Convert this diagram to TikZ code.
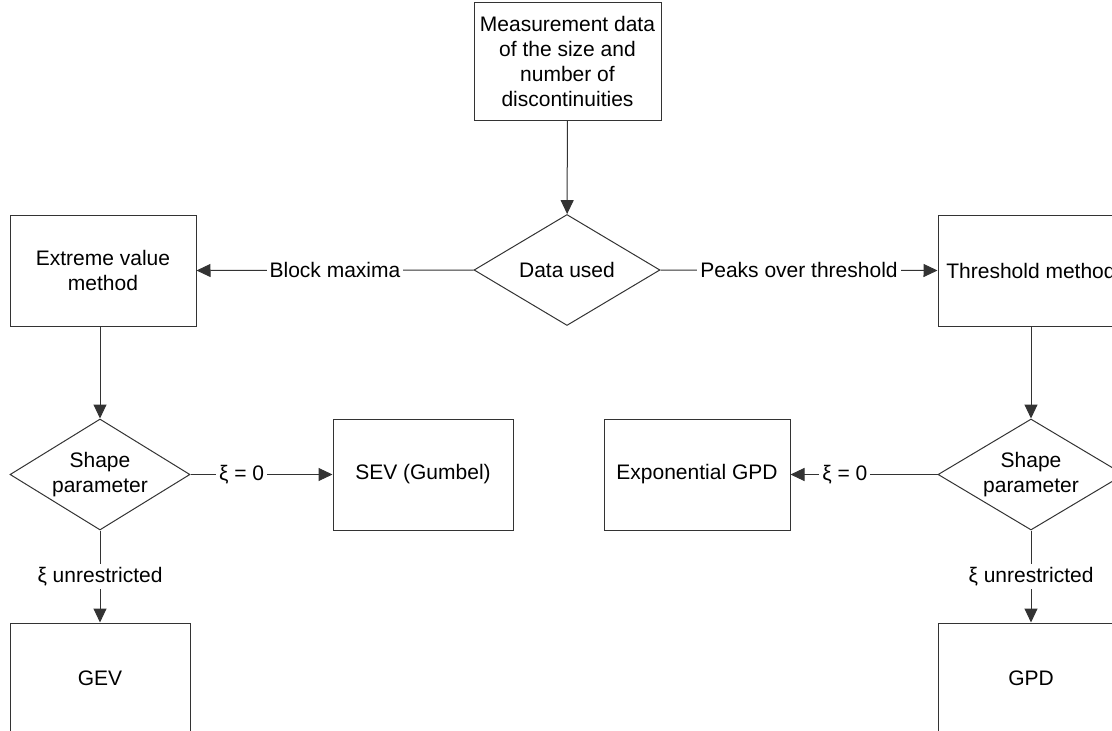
\documentclass[tikz,border=0pt]{standalone}
\usepackage{fontspec}
\setmainfont{Liberation Sans}
\usetikzlibrary{shapes.geometric,arrows.meta}

\tikzset{
  base/.style={draw=black!80, line width=1pt, inner sep=0pt,
    font=\fontsize{21}{25}\selectfont, align=center},
  procbox/.style={base, rectangle, minimum width=#1, minimum height=111pt},
  procbox/.default=186pt,
  decision/.style={base, diamond, minimum width=#1, minimum height=111pt},
  decision/.default=186pt,
  flow/.style={draw=black!80, line width=1pt, -{Triangle[length=14pt,width=13pt]}},
  edgelabel/.style={fill=white, inner sep=3pt, font=\fontsize{21}{25}\selectfont}
}

\begin{document}
\begin{tikzpicture}[x=1pt, y=-1pt]
  \useasboundingbox (0,0) rectangle (1112,731);
  \clip (0,0) rectangle (1112,731);

  % source data
  \node[base, rectangle, minimum width=187pt, minimum height=118pt] (src) at (567.5,61)
    {Measurement data\\of the size and\\number of\\discontinuities};

  % choice of data
  \node[decision] (data) at (567,270) {};
  \node[font=\fontsize{21}{25}\selectfont] at (data.center) {Data used};

  % the two methods
  \node[procbox] (evm) at (103,270.5) {Extreme value\\method};
  \node[procbox] (thr) at (1031,270.5) {Threshold method};

  % shape parameter decisions
  \node[decision=180pt] (sl) at (100,474.5) {};
  \node[font=\fontsize{21}{25}\selectfont, align=center] at (sl.center) {Shape\\parameter};
  \node[decision] (sr) at (1031,474.5) {};
  \node[font=\fontsize{21}{25}\selectfont, align=center] at (sr.center) {Shape\\parameter};

  % resulting distributions
  \node[procbox=180pt] (sev) at (423,474.5) {SEV (Gumbel)};
  \node[procbox] (expg) at (697,474.5) {Exponential GPD};
  \node[procbox=180pt] (gev) at (100,678.5) {GEV};
  \node[procbox] (gpd) at (1031,678.5) {GPD};

  % connectors
  \draw[flow] (src) -- (data);
  \draw[flow] (data.west) -- node[edgelabel] {Block maxima} (evm.east);
  \draw[flow] (data.east) -- node[edgelabel] {Peaks over threshold} (thr.west);
  \draw[flow] (sl.north |- evm.south) -- (sl.north);
  \draw[flow] (thr.south) -- (sr.north);
  \draw[flow] (sl.east) -- node[edgelabel, pos=0.36] {ξ = 0} (sev.west);
  \draw[flow] (sr.west) -- node[edgelabel, pos=0.63] {ξ = 0} (expg.east);
  \draw[flow] (sl.south) -- node[edgelabel] {ξ unrestricted} (gev.north);
  \draw[flow] (sr.south) -- node[edgelabel] {ξ unrestricted} (gpd.north);
\end{tikzpicture}
\end{document}
